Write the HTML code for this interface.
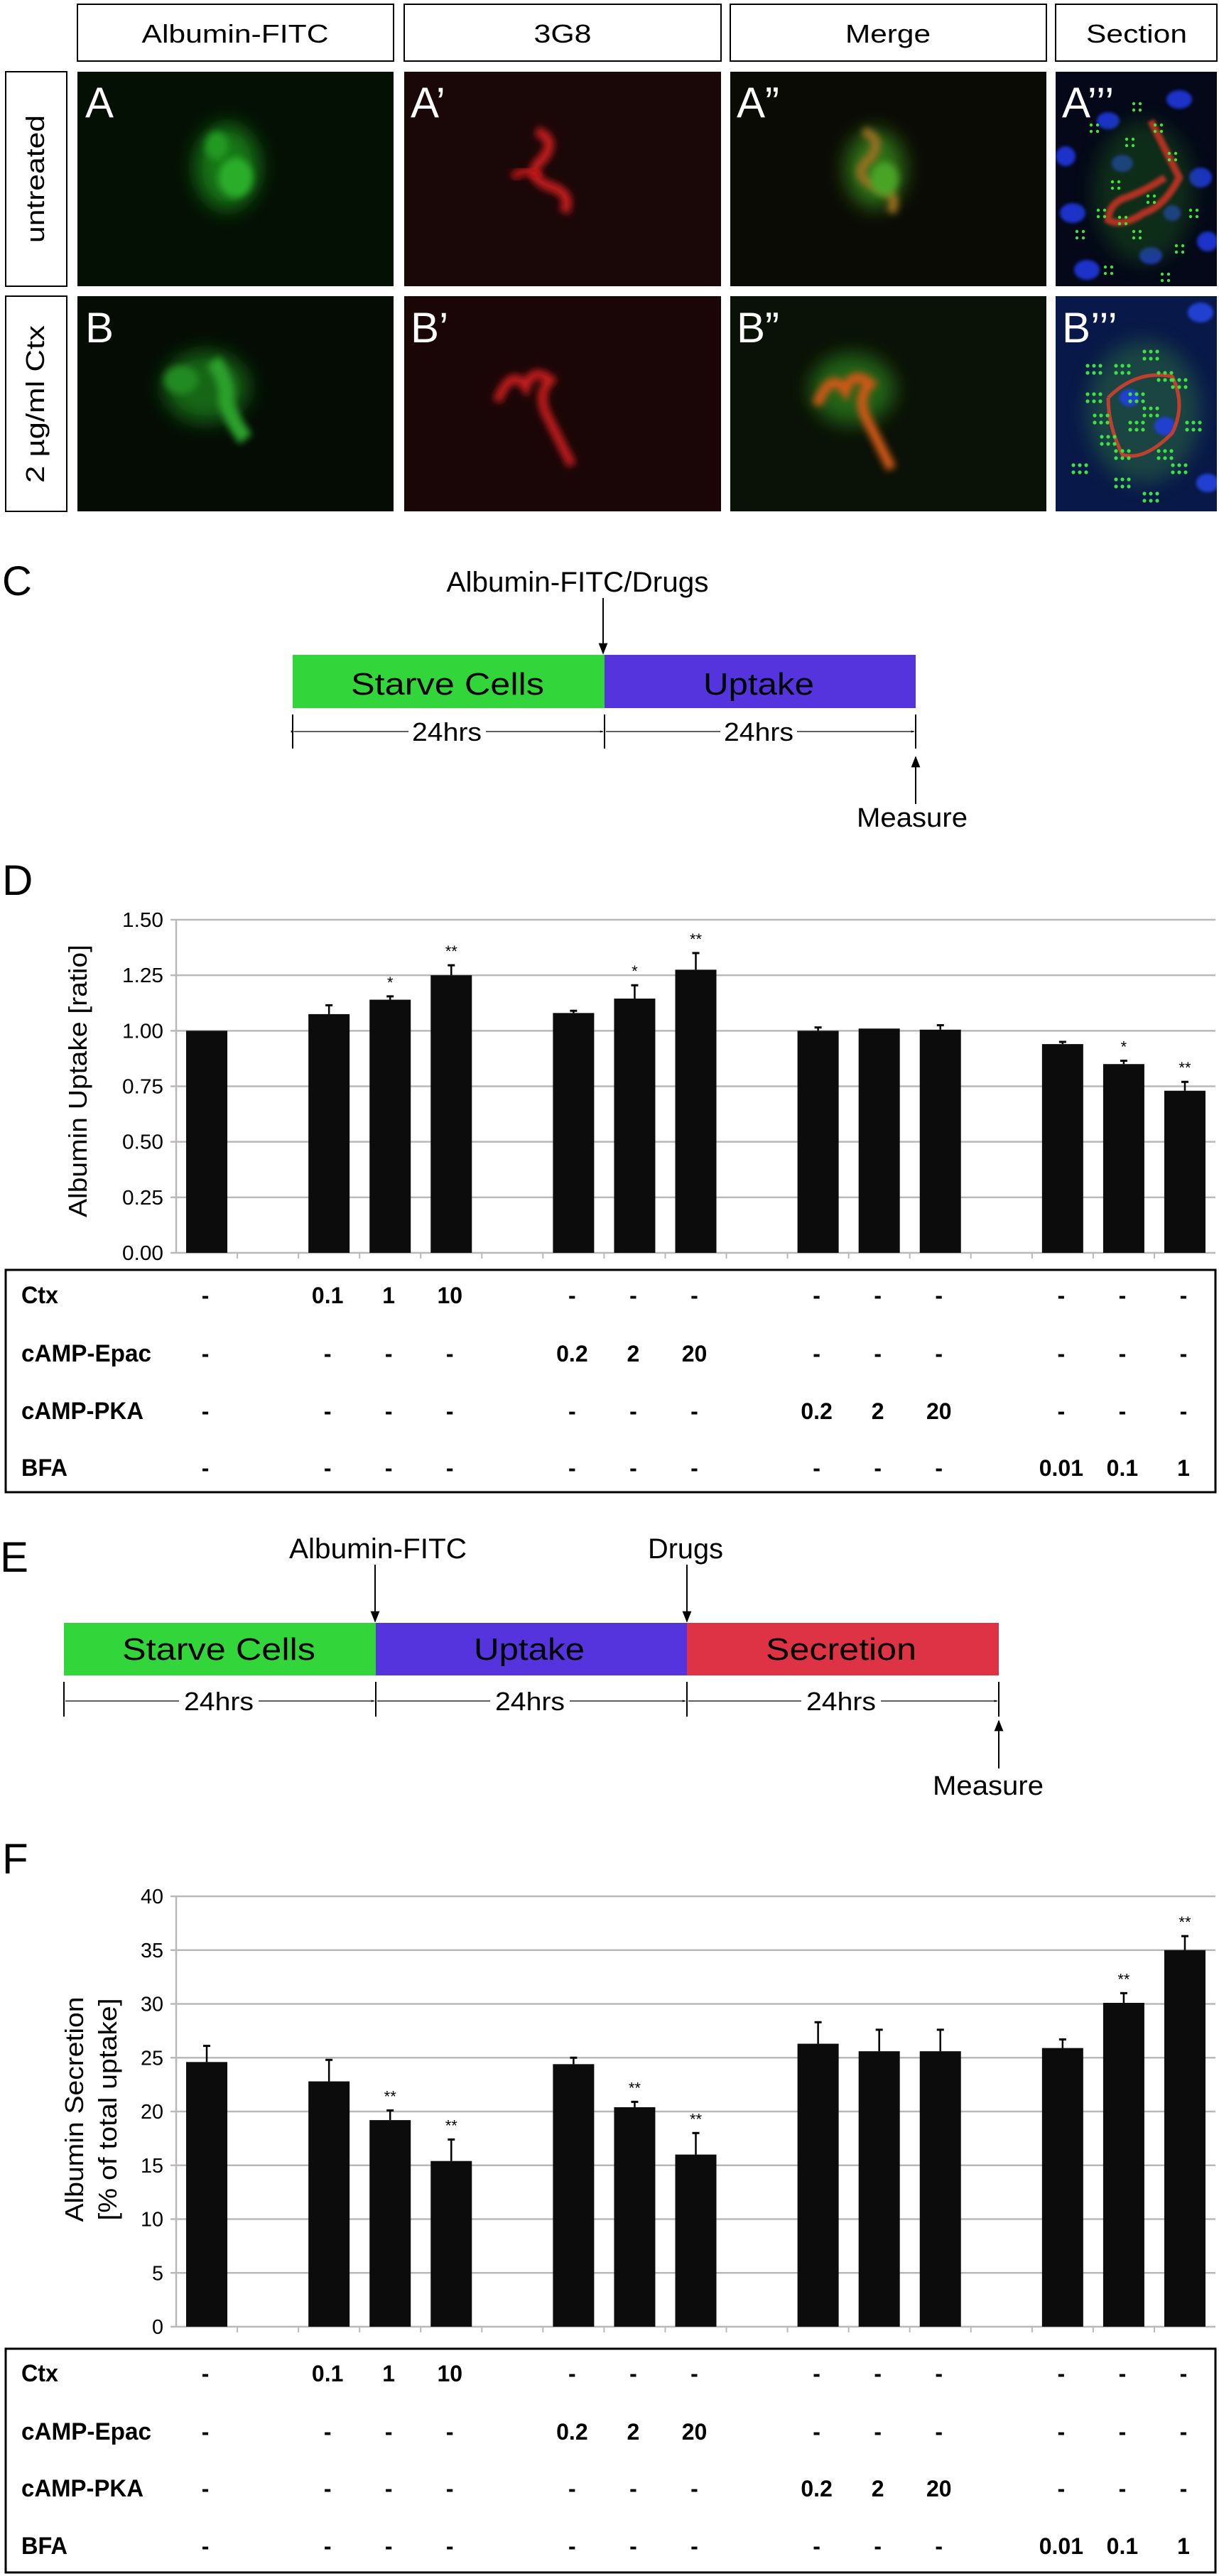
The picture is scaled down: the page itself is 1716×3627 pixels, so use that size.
<!DOCTYPE html>
<html><head><meta charset="utf-8"><style>
html,body{margin:0;padding:0;background:#fff}
svg{display:block}
text{font-family:"Liberation Sans",sans-serif;fill:#000}
</style></head><body>
<svg id="fig" width="1716" height="3627" viewBox="0 0 1716 3627">
<defs>
<filter id="b20" x="-50%" y="-50%" width="200%" height="200%"><feGaussianBlur stdDeviation="14"/></filter>
<filter id="b6" x="-50%" y="-50%" width="200%" height="200%"><feGaussianBlur stdDeviation="5"/></filter>
<filter id="b2"><feGaussianBlur stdDeviation="2"/></filter>
<marker id="ah" viewBox="0 0 10 10" refX="9" refY="5" markerWidth="8" markerHeight="10" orient="auto"><path d="M0,1 L10,5 L0,9 z" fill="#000"/></marker>
<marker id="sa" viewBox="0 0 10 10" refX="9" refY="5" markerWidth="4" markerHeight="4" orient="auto"><path d="M0,2 L10,5 L0,8 z" fill="#000"/></marker>
<clipPath id="cA1"><rect x="109" y="101" width="445" height="302"/></clipPath>
<clipPath id="cA2"><rect x="569" y="101" width="446" height="302"/></clipPath>
<clipPath id="cA3"><rect x="1028" y="101" width="445" height="302"/></clipPath>
<clipPath id="cA4"><rect x="1486" y="101" width="227" height="302"/></clipPath>
<clipPath id="cB1"><rect x="109" y="417" width="445" height="303"/></clipPath>
<clipPath id="cB2"><rect x="569" y="417" width="446" height="303"/></clipPath>
<clipPath id="cB3"><rect x="1028" y="417" width="445" height="303"/></clipPath>
<clipPath id="cB4"><rect x="1486" y="417" width="227" height="303"/></clipPath>
</defs>

<g stroke="#000" stroke-width="2" fill="#fff">
<rect x="109" y="6" width="445" height="80"/>
<rect x="569" y="6" width="446" height="80"/>
<rect x="1028" y="6" width="445" height="80"/>
<rect x="1486" y="6" width="227" height="80"/>
<rect x="8" y="101" width="86" height="302"/>
<rect x="8" y="417" width="86" height="303"/>
</g>
<g font-size="36" text-anchor="middle">
<text x="331" y="60" textLength="263" lengthAdjust="spacingAndGlyphs">Albumin-FITC</text>
<text x="792" y="60" textLength="81" lengthAdjust="spacingAndGlyphs">3G8</text>
<text x="1250" y="60" textLength="120" lengthAdjust="spacingAndGlyphs">Merge</text>
<text x="1600" y="60" textLength="142" lengthAdjust="spacingAndGlyphs">Section</text>
<text transform="translate(62,252) rotate(-90)" textLength="180" lengthAdjust="spacingAndGlyphs">untreated</text>
<text transform="translate(62,569) rotate(-90)" textLength="222" lengthAdjust="spacingAndGlyphs">2 µg/ml Ctx</text>
</g>

<g clip-path="url(#cA1)">
<rect x="109" y="101" width="445" height="302" fill="#041004"/>
<ellipse cx="320" cy="235" rx="45" ry="60" fill="#187818" filter="url(#b20)"/>
<ellipse cx="332" cy="250" rx="24" ry="28" fill="#2aae2a" filter="url(#b6)"/>
<ellipse cx="305" cy="205" rx="16" ry="20" fill="#229a22" filter="url(#b6)"/>
</g>
<g clip-path="url(#cA2)">
<rect x="569" y="101" width="446" height="302" fill="#1a0707"/>
<path d="M755,185 q30,10 10,38 q-28,22 5,38 q38,10 24,38" stroke="#c41c1c" stroke-width="14" fill="none" filter="url(#b6)"/>
<path d="M722,250 q20,-18 38,0" stroke="#b81818" stroke-width="12" fill="none" filter="url(#b6)"/>
</g>
<g clip-path="url(#cA3)">
<rect x="1028" y="101" width="445" height="302" fill="#0b0b05"/>
<ellipse cx="1232" cy="238" rx="42" ry="55" fill="#2e7018" filter="url(#b20)"/>
<path d="M1215,185 q30,10 10,38 q-28,22 5,38 q38,10 24,38" stroke="#9a7020" stroke-width="13" fill="none" filter="url(#b6)"/>
<ellipse cx="1245" cy="252" rx="20" ry="24" fill="#4aa428" filter="url(#b6)"/>
</g>
<g clip-path="url(#cA4)">
<rect x="1486" y="101" width="227" height="302" fill="#040818"/>
<g fill="#1a30c8" filter="url(#b2)">
<ellipse cx="1510" cy="300" rx="18" ry="14"/><ellipse cx="1560" cy="170" rx="16" ry="12"/><ellipse cx="1660" cy="140" rx="18" ry="13"/><ellipse cx="1690" cy="250" rx="16" ry="14"/><ellipse cx="1530" cy="380" rx="18" ry="14"/><ellipse cx="1620" cy="360" rx="16" ry="12"/><ellipse cx="1580" cy="230" rx="15" ry="12"/><ellipse cx="1700" cy="340" rx="15" ry="14"/><ellipse cx="1500" cy="220" rx="14" ry="14"/><ellipse cx="1650" cy="300" rx="12" ry="11"/>
</g>
<ellipse cx="1610" cy="270" rx="70" ry="100" fill="#1d5a1d" opacity="0.45" filter="url(#b20)"/>
<path d="M1620,170 q20,40 40,80 q-20,40 -50,50 q-30,20 -50,10 q0,-20 20,-30 q30,-10 60,-30" stroke="#b03020" stroke-width="10" fill="none" filter="url(#b2)"/>
</g>
<g clip-path="url(#cB1)">
<rect x="109" y="417" width="445" height="303" fill="#040c04"/>
<ellipse cx="290" cy="545" rx="60" ry="50" fill="#166616" filter="url(#b20)"/>
<path d="M300,508 q22,30 18,58 q10,30 28,52" stroke="#2aa02a" stroke-width="22" fill="none" filter="url(#b6)"/>
<ellipse cx="255" cy="535" rx="24" ry="20" fill="#208a20" filter="url(#b6)"/>
</g>
<g clip-path="url(#cB2)">
<rect x="569" y="417" width="446" height="303" fill="#1a0606"/>
<path d="M700,565 q20,-50 40,-20 q10,-30 35,-10 q-20,20 -5,50 q20,40 35,70" stroke="#c41c1c" stroke-width="13" fill="none" filter="url(#b6)"/>
</g>
<g clip-path="url(#cB3)">
<rect x="1028" y="417" width="445" height="303" fill="#0a1106"/>
<ellipse cx="1200" cy="548" rx="60" ry="50" fill="#226418" filter="url(#b20)"/>
<path d="M1150,570 q20,-50 40,-20 q10,-30 35,-10 q-20,20 -5,50 q20,40 35,70" stroke="#d05818" stroke-width="14" fill="none" filter="url(#b6)"/>
</g>
<g clip-path="url(#cB4)">
<rect x="1486" y="417" width="227" height="303" fill="#081848"/>
<ellipse cx="1610" cy="580" rx="80" ry="100" fill="#2a6a40" opacity="0.55" filter="url(#b20)"/>
<g fill="#2040d0" filter="url(#b2)"><ellipse cx="1690" cy="440" rx="18" ry="14"/><ellipse cx="1640" cy="600" rx="15" ry="13"/><ellipse cx="1700" cy="680" rx="16" ry="13"/><ellipse cx="1590" cy="560" rx="14" ry="12"/></g>
<path d="M1560,560 q40,-40 90,-30 q20,40 0,80 q-40,40 -70,30 q-20,-40 -20,-80" stroke="#c04030" stroke-width="5" fill="none"/>
</g>
<g id="dots" fill="#40e040"></g>
<g font-size="60" fill="#fff">
<text x="120" y="165" style="fill:#fff">A</text><text x="578" y="165" style="fill:#fff">A’</text><text x="1037" y="165" style="fill:#fff">A”</text><text x="1495" y="165" style="fill:#fff">A’’’</text>
<text x="120" y="482" style="fill:#fff">B</text><text x="578" y="482" style="fill:#fff">B’</text><text x="1037" y="482" style="fill:#fff">B”</text><text x="1495" y="482" style="fill:#fff">B’’’</text>
</g>

<g>
<text x="3" y="838" font-size="58">C</text>
<text x="813" y="833" font-size="40" text-anchor="middle" textLength="369" lengthAdjust="spacingAndGlyphs">Albumin-FITC/Drugs</text>
<line x1="849" y1="842" x2="849" y2="920" stroke="#000" stroke-width="2" marker-end="url(#ah)"/>
<rect x="412" y="922" width="439" height="75" fill="#33d63a"/>
<rect x="851" y="922" width="438" height="75" fill="#5533dd"/>
<text x="630" y="978" font-size="44" text-anchor="middle" textLength="272" lengthAdjust="spacingAndGlyphs">Starve Cells</text>
<text x="1068" y="978" font-size="44" text-anchor="middle" textLength="156" lengthAdjust="spacingAndGlyphs">Uptake</text>
<g stroke="#000" stroke-width="2"><line x1="412" y1="1006" x2="412" y2="1054"/><line x1="851" y1="1006" x2="851" y2="1054"/><line x1="1289" y1="1006" x2="1289" y2="1054"/></g>
<g stroke="#000" stroke-width="1.2"><line x1="414" y1="1030" x2="575" y2="1030" marker-start="url(#sa)"/><line x1="684" y1="1030" x2="849" y2="1030" marker-end="url(#sa)"/><line x1="853" y1="1030" x2="1014" y2="1030"/><line x1="1122" y1="1030" x2="1287" y2="1030" marker-end="url(#sa)"/></g>
<text x="629" y="1043" font-size="36" text-anchor="middle" textLength="98" lengthAdjust="spacingAndGlyphs">24hrs</text>
<text x="1068" y="1043" font-size="36" text-anchor="middle" textLength="98" lengthAdjust="spacingAndGlyphs">24hrs</text>
<line x1="1289" y1="1132" x2="1289" y2="1066" stroke="#000" stroke-width="2" marker-end="url(#ah)"/>
<text x="1284" y="1164" font-size="38" text-anchor="middle" textLength="156" lengthAdjust="spacingAndGlyphs">Measure</text>
</g>

<g>
<text x="0" y="2213" font-size="60">E</text>
<text x="532" y="2194" font-size="40" text-anchor="middle" textLength="250" lengthAdjust="spacingAndGlyphs">Albumin-FITC</text>
<text x="965" y="2194" font-size="40" text-anchor="middle" textLength="106" lengthAdjust="spacingAndGlyphs">Drugs</text>
<line x1="528" y1="2203" x2="528" y2="2283" stroke="#000" stroke-width="2" marker-end="url(#ah)"/>
<line x1="967" y1="2203" x2="967" y2="2283" stroke="#000" stroke-width="2" marker-end="url(#ah)"/>
<rect x="90" y="2285" width="439" height="74" fill="#33d63a"/>
<rect x="529" y="2285" width="438" height="74" fill="#5533dd"/>
<rect x="967" y="2285" width="439" height="74" fill="#dd3344"/>
<text x="308" y="2337" font-size="44" text-anchor="middle" textLength="272" lengthAdjust="spacingAndGlyphs">Starve Cells</text>
<text x="745" y="2337" font-size="44" text-anchor="middle" textLength="156" lengthAdjust="spacingAndGlyphs">Uptake</text>
<text x="1184" y="2337" font-size="44" text-anchor="middle" textLength="212" lengthAdjust="spacingAndGlyphs">Secretion</text>
<g stroke="#000" stroke-width="2"><line x1="90" y1="2368" x2="90" y2="2417"/><line x1="529" y1="2368" x2="529" y2="2417"/><line x1="967" y1="2368" x2="967" y2="2417"/><line x1="1406" y1="2368" x2="1406" y2="2417"/></g>
<g stroke="#000" stroke-width="1.2"><line x1="92" y1="2395" x2="252" y2="2395"/><line x1="364" y1="2395" x2="527" y2="2395" marker-end="url(#sa)"/><line x1="531" y1="2395" x2="690" y2="2395"/><line x1="802" y1="2395" x2="965" y2="2395" marker-end="url(#sa)"/><line x1="969" y1="2395" x2="1128" y2="2395"/><line x1="1240" y1="2395" x2="1404" y2="2395" marker-end="url(#sa)"/></g>
<text x="308" y="2408" font-size="36" text-anchor="middle" textLength="98" lengthAdjust="spacingAndGlyphs">24hrs</text>
<text x="746" y="2408" font-size="36" text-anchor="middle" textLength="98" lengthAdjust="spacingAndGlyphs">24hrs</text>
<text x="1184" y="2408" font-size="36" text-anchor="middle" textLength="98" lengthAdjust="spacingAndGlyphs">24hrs</text>
<line x1="1406" y1="2490" x2="1406" y2="2423" stroke="#000" stroke-width="2" marker-end="url(#ah)"/>
<text x="1391" y="2527" font-size="38" text-anchor="middle" textLength="156" lengthAdjust="spacingAndGlyphs">Measure</text>
</g>

<text x="3" y="1260" font-size="60">D</text>
<text x="3" y="2638" font-size="60">F</text>
<g id="chartD"></g>
<g id="chartF"></g>
</svg>
<script>
const slotIndex = [0, 2, 3, 4, 6, 7, 8, 10, 11, 12, 14, 15, 16];
const uptakeValues = [1.00, 1.075, 1.14, 1.25, 1.08, 1.145, 1.275, 1.00, 1.01, 1.005, 0.94, 0.85, 0.73];
const uptakeErrors = [0.0, 0.04, 0.015, 0.045, 0.01, 0.06, 0.075, 0.015, 0.0, 0.02, 0.01, 0.015, 0.04];
const uptakeStars = ["", "", "*", "**", "", "*", "**", "", "", "", "", "*", "**"];
const uptakeTicks = ["0.00", "0.25", "0.50", "0.75", "1.00", "1.25", "1.50"];
const secretionValues = [24.6, 22.8, 19.2, 15.4, 24.4, 20.4, 16.0, 26.3, 25.6, 25.6, 25.9, 30.1, 35.0];
const secretionErrors = [1.5, 2.0, 0.9, 2.0, 0.6, 0.5, 2.0, 2.0, 2.0, 2.0, 0.8, 0.9, 1.3];
const secretionStars = ["", "", "**", "**", "", "**", "**", "", "", "", "", "**", "**"];
const secretionTicks = ["0", "5", "10", "15", "20", "25", "30", "35", "40"];
const rowLabels = ["Ctx", "cAMP-Epac", "cAMP-PKA", "BFA"];
const rowCtx = ["-", "0.1", "1", "10", "-", "-", "-", "-", "-", "-", "-", "-", "-"];
const rowEpac = ["-", "-", "-", "-", "0.2", "2", "20", "-", "-", "-", "-", "-", "-"];
const rowPka = ["-", "-", "-", "-", "-", "-", "-", "0.2", "2", "20", "-", "-", "-"];
const rowBfa = ["-", "-", "-", "-", "-", "-", "-", "-", "-", "-", "0.01", "0.1", "1"];

const NS = "http://www.w3.org/2000/svg";
function mk(parent, tag, attrs, txt) {
  const e = document.createElementNS(NS, tag);
  for (const k in attrs) e.setAttribute(k, attrs[k]);
  if (txt !== undefined) e.textContent = txt;
  parent.appendChild(e);
  return e;
}
const X0 = 248, X1 = 1711, NSLOT = 17;
const slotW = (X1 - X0) / NSLOT;
function xCenter(i) { return X0 + slotW * (slotIndex[i] + 0.5); }

function drawChart(g, cfg) {
  const yScale = v => cfg.yBottom - (v - cfg.min) / (cfg.max - cfg.min) * (cfg.yBottom - cfg.yTop);
  cfg.ticks.forEach((t, k) => {
    const v = cfg.min + k * (cfg.max - cfg.min) / (cfg.ticks.length - 1);
    const y = yScale(v);
    const gl = mk(g, "line", {x1: X0 - 8, x2: X1, y1: y, y2: y, stroke: "#bdb8b8", "stroke-width": 2.5});
    
    
    const tl = mk(g, "text", {x: X0 - 18, y: y + 10, "font-size": 29, "text-anchor": "end", textLength: t.length > 2 ? 58 : (t.length * 16), lengthAdjust: "spacingAndGlyphs"}, t);
    
    
  });
  mk(g, "line", {x1: X0, x2: X0, y1: cfg.yTop, y2: cfg.yBottom, stroke: "#bdb8b8", "stroke-width": 2.5});
  for (let s = 1; s < NSLOT; s++) {
    const x = X0 + s * slotW;
    mk(g, "line", {x1: x, x2: x, y1: cfg.yBottom, y2: cfg.yBottom + 8, stroke: "#bdb8b8", "stroke-width": 2});
  }
  cfg.values.forEach((v, i) => {
    const xc = xCenter(i), yt = yScale(v);
    const r = mk(g, "rect", {x: xc - 29, y: yt, width: 58, height: cfg.yBottom - yt, fill: "#0c0c0c"});
    
    
    const ye = yScale(v + cfg.errors[i]);
    if (cfg.errors[i] > 0) {
      mk(g, "line", {x1: xc, x2: xc, y1: yt, y2: ye, stroke: "#000", "stroke-width": 2.5});
      mk(g, "line", {x1: xc - 5, x2: xc + 5, y1: ye, y2: ye, stroke: "#000", "stroke-width": 3});
    }
    if (cfg.stars[i]) {
      const st = mk(g, "text", {x: xc, y: ye - 12, "font-size": 22, "text-anchor": "middle"}, cfg.stars[i]);
      
      
    }
  });
  cfg.title.forEach((line, k) => {
    const tt = mk(g, "text", {transform: "translate(" + cfg.titleX[k] + "," + cfg.titleY + ") rotate(-90)", "font-size": 36, "text-anchor": "middle", textLength: cfg.titleLen[k], lengthAdjust: "spacingAndGlyphs"}, line);
    
    
  });
  const tb = mk(g, "rect", {x: 8, y: cfg.tTop, width: 1703, height: cfg.tBot - cfg.tTop, fill: "none", stroke: "#000", "stroke-width": 3});
  
  
  const rows = [rowCtx, rowEpac, rowPka, rowBfa];
  rows.forEach((row, r) => {
    const y = cfg.rowY[r] + 12;
    const lbl = mk(g, "text", {x: 30, y: y, "font-size": 34, "font-weight": "bold", textLength: [52, 183, 172, 65][r], lengthAdjust: "spacingAndGlyphs"}, rowLabels[r]);
    
    
    row.forEach((val, i) => {
      const c = mk(g, "text", {x: xCenter(i) - 2, y: y, "font-size": 32, "font-weight": "bold", "text-anchor": "middle"}, val);
      
      
    });
  });
}
drawChart(document.getElementById("chartD"), {
  min: 0, max: 1.5, yTop: 1295, yBottom: 1764, ticks: uptakeTicks,
  values: uptakeValues, errors: uptakeErrors, stars: uptakeStars,
  title: ["Albumin Uptake [ratio]"], titleX: [122], titleY: 1522, titleLen: [384],
  tTop: 1788, tBot: 2101, rowY: [1823, 1905, 1986, 2066]
});
drawChart(document.getElementById("chartF"), {
  min: 0, max: 40, yTop: 2670, yBottom: 3276, ticks: secretionTicks,
  values: secretionValues, errors: secretionErrors, stars: secretionStars,
  title: ["Albumin Secretion", "[% of total uptake]"], titleX: [117, 164], titleY: 2970, titleLen: [317, 313],
  tTop: 3307, tBot: 3622, rowY: [3341, 3423, 3503, 3584]
});
const dotG = document.getElementById("dots");
const dotSpots = [[1540,180],[1600,150],[1570,260],[1650,220],[1520,330],[1600,330],[1680,300],[1560,380],[1640,390],[1590,200],[1620,280],[1550,300],[1630,180],[1580,310],[1660,350]];
dotSpots.forEach(p => { for (let k = 0; k < 4; k++) mk(dotG, "circle", {cx: p[0] + (k % 2) * 9 - 4, cy: p[1] + Math.floor(k / 2) * 9 - 4, r: 2.2}); });
const dotSpotsB = [[1540,560],[1580,520],[1620,500],[1660,540],[1560,620],[1600,600],[1640,640],[1580,680],[1620,700],[1520,660],[1680,600],[1600,560],[1550,590],[1660,660],[1620,580],[1580,640],[1640,530],[1540,520]];
dotSpotsB.forEach(p => { for (let k = 0; k < 6; k++) mk(dotG, "circle", {cx: p[0] + (k % 3) * 9 - 9, cy: p[1] + Math.floor(k / 3) * 10 - 5, r: 2.6}); });
</script>
</body></html>
